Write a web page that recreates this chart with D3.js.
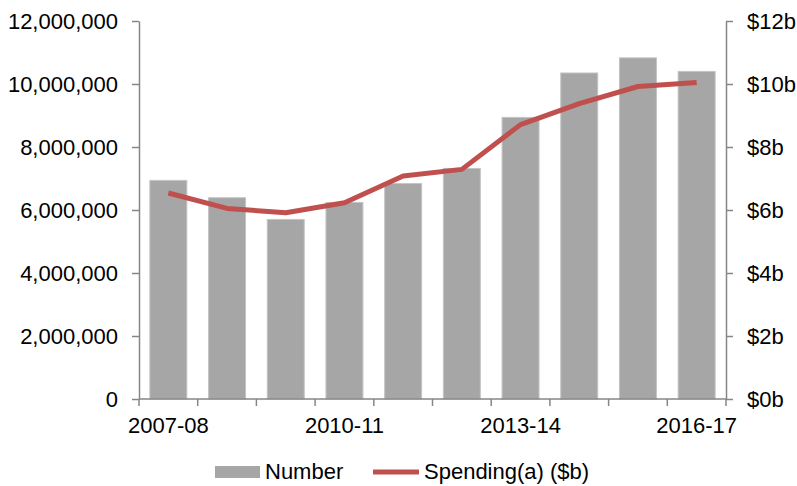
<!DOCTYPE html>
<head>
<meta charset="utf-8">
<style>
body { margin: 0; background: #fff; }
text { font-family: "Liberation Sans", Arial, sans-serif; font-size: 22px; fill: #000; }
.axis path, .axis line { stroke: #868686; stroke-width: 1.5px; }
</style>
</head>
<body>
<script src="https://cdn.jsdelivr.net/npm/d3@7"></script>
<script>

var years = ["2007-08","2008-09","2009-10","2010-11","2011-12","2012-13","2013-14","2014-15","2015-16","2016-17"];
var numbers = [6940000, 6390000, 5700000, 6240000, 6840000, 7320000, 8940000, 10350000, 10830000, 10400000];
var spending = [6.54, 6.05, 5.91, 6.23, 7.08, 7.29, 8.71, 9.38, 9.92, 10.05];
var leftTicks = [0, 2000000, 4000000, 6000000, 8000000, 10000000, 12000000];
var rightTicks = [0, 2, 4, 6, 8, 10, 12];
var shownYears = ["2007-08","2010-11","2013-14","2016-17"];

var width = 797, height = 486;
var plotLeft = 139, plotRight = 726, plotTop = 21, plotBottom = 399;

var svg = d3.select("body").append("svg")
    .attr("width", width)
    .attr("height", height);

var x = d3.scaleBand().domain(years).range([plotLeft, plotRight]).paddingInner(0.37).paddingOuter(0.185);
var xc = d3.scaleBand().domain(years).range([plotLeft, plotRight]);
var yL = d3.scaleLinear().domain([0, 12000000]).range([plotBottom, plotTop]);
var yR = d3.scaleLinear().domain([0, 12]).range([plotBottom, plotTop]);

// bars
svg.append("g").selectAll("rect")
    .data(years)
    .enter().append("rect")
    .attr("x", function(d) { return x(d); })
    .attr("width", x.bandwidth())
    .attr("y", function(d, i) { return yL(numbers[i]); })
    .attr("height", function(d, i) { return plotBottom - yL(numbers[i]); })
    .style("fill", "#a6a6a6")
    .style("stroke", "#c4c4c4")
    .style("stroke-width", 1);

// left axis
var gl = svg.append("g").attr("class", "axis")
    .attr("transform", "translate(" + plotLeft + ",0)")
    .call(d3.axisLeft(yL).tickValues(leftTicks).tickSize(7).tickSizeOuter(0).tickPadding(14)
      .tickFormat(d3.format(",")));
gl.selectAll("text").attr("dy", "0.36em");

// right axis
var gr = svg.append("g").attr("class", "axis")
    .attr("transform", "translate(" + plotRight + ",0)")
    .call(d3.axisRight(yR).tickValues(rightTicks).tickSize(7).tickSizeOuter(0).tickPadding(14)
      .tickFormat(function(d) { return "$" + d + "b"; }));
gr.selectAll("text").attr("dy", "0.36em");

// x axis, ticks between categories
var gx = svg.append("g").attr("class", "axis")
    .attr("transform", "translate(0," + plotBottom + ")");
gx.append("line").attr("x1", plotLeft).attr("x2", plotRight).attr("y1", 0).attr("y2", 0);
gx.selectAll(".tk")
    .data(years.concat(["end"]))
    .enter().append("line")
    .attr("x1", function(d, i) { return plotLeft + i * xc.bandwidth(); })
    .attr("x2", function(d, i) { return plotLeft + i * xc.bandwidth(); })
    .attr("y1", 0).attr("y2", 7);
gx.selectAll("text")
    .data(shownYears)
    .enter().append("text")
    .attr("x", function(d) { return xc(d) + xc.bandwidth() / 2; })
    .attr("y", 34)
    .attr("text-anchor", "middle")
    .text(function(d) { return d; });

// spending line
var line = d3.line()
    .x(function(d, i) { return xc(years[i]) + xc.bandwidth() / 2; })
    .y(function(d) { return yR(d); });
svg.append("path")
    .datum(spending)
    .attr("d", line)
    .style("fill", "none")
    .style("stroke", "#c0504d")
    .style("stroke-width", 5)
    .style("stroke-linejoin", "round");

// legend
var lg = svg.append("g");
lg.append("rect").attr("x", 215).attr("y", 466).attr("width", 45).attr("height", 12).style("fill", "#a6a6a6");
lg.append("text").attr("x", 265).attr("y", 479).text("Number");
lg.append("line").attr("x1", 373).attr("x2", 419).attr("y1", 472).attr("y2", 472)
    .style("stroke", "#c0504d").style("stroke-width", 5);
lg.append("text").attr("x", 424).attr("y", 479).text("Spending(a) ($b)");

</script>
</body>
</html>
